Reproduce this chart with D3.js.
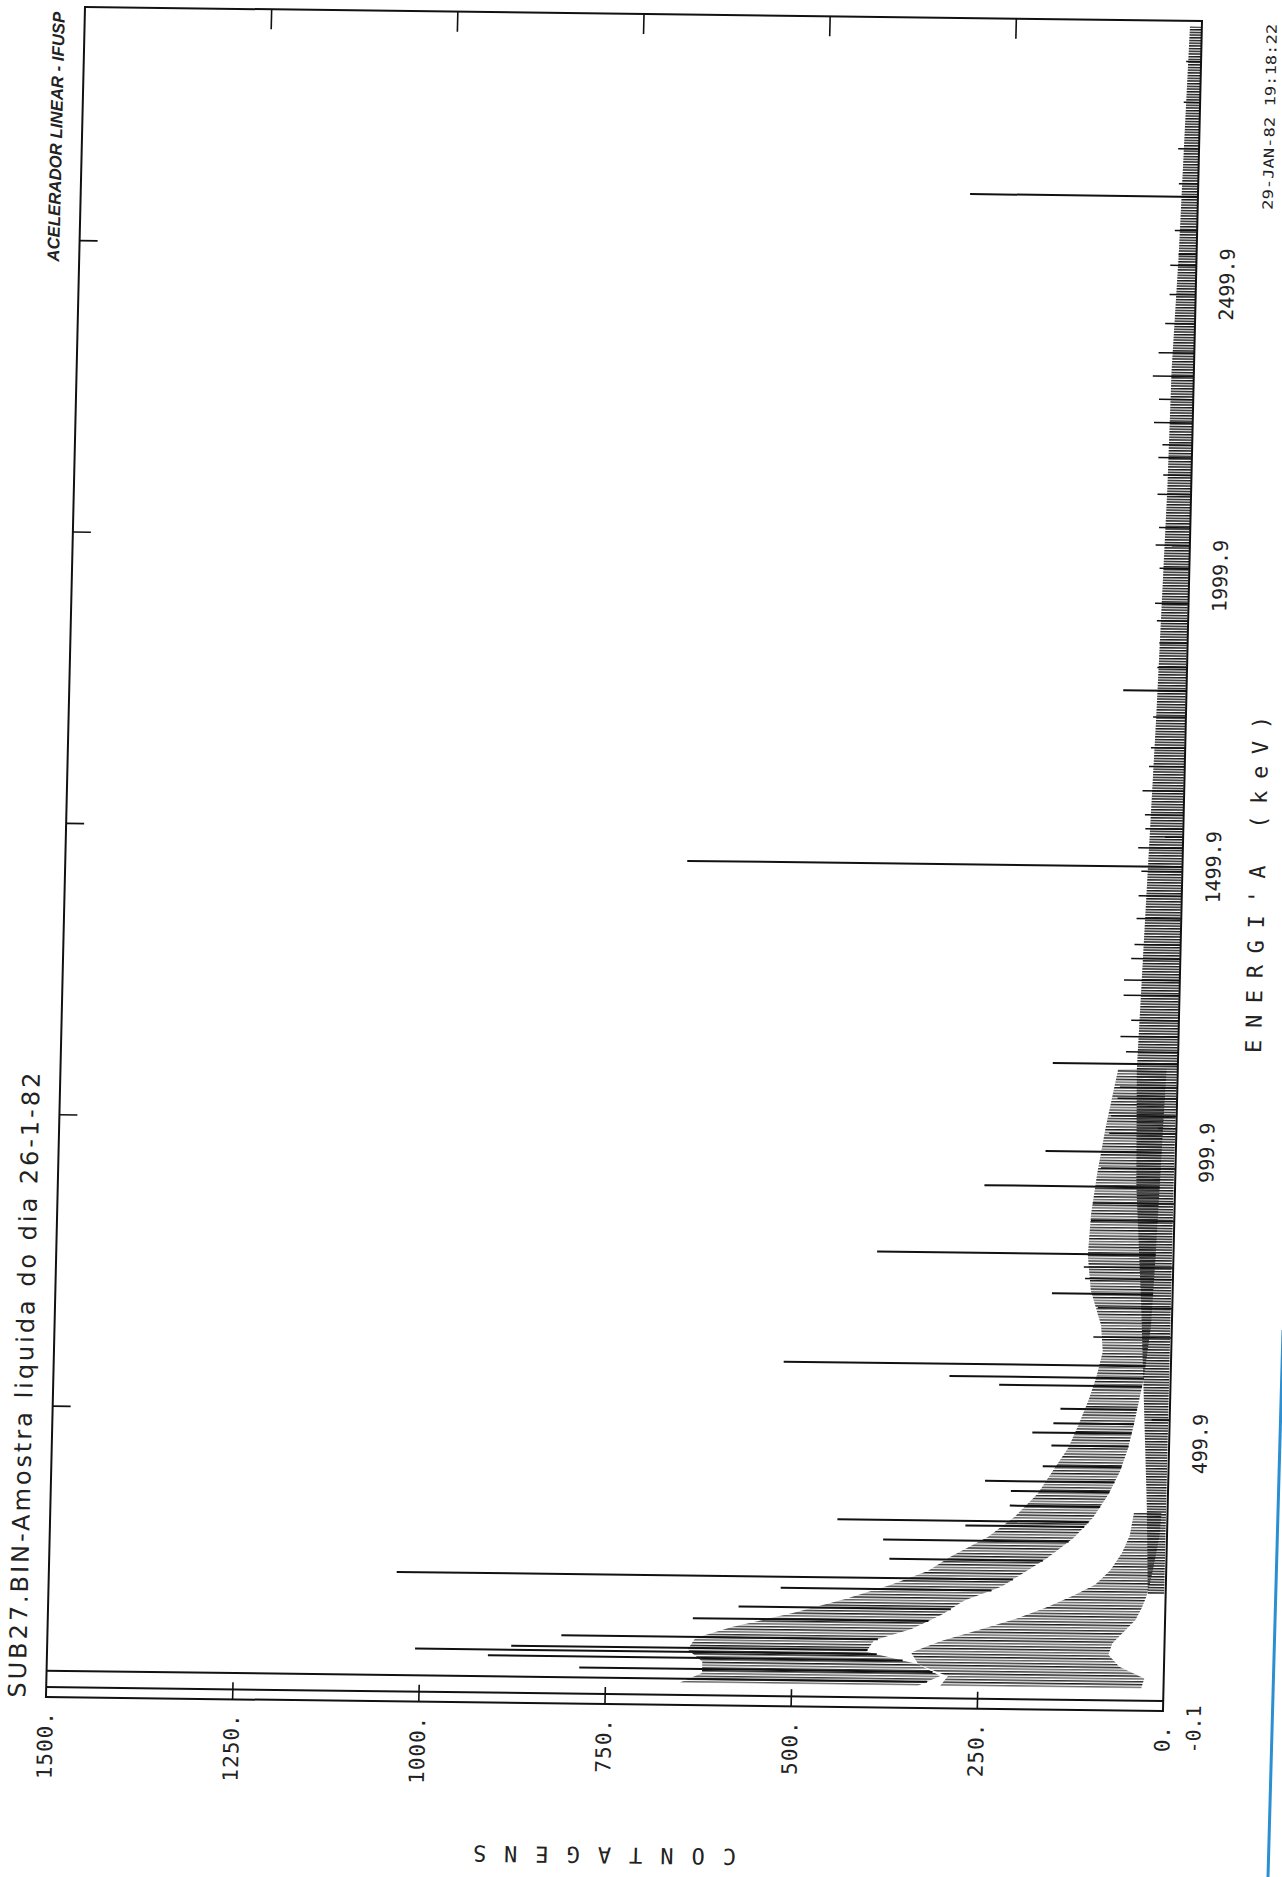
<!DOCTYPE html>
<html>
<head>
<meta charset="utf-8">
<script src="https://cdn.jsdelivr.net/npm/d3@7"></script>
<style>
  body { margin: 0; background: #fff; }
</style>
</head>
<body>
<div id="chart"></div>
<script>
// eixo de contagens (horizontal, 1500 a esquerda) e eixo de energia (vertical)
const countTicks = [1500, 1250, 1000, 750, 500, 250, 0];
const countTickText = ["1500.", "1250.", "1000.", "750.", "500.", "250.", "0."];
const energyTicks = [-0.1, 499.9, 999.9, 1499.9, 1999.9, 2499.9];
const energyTickText = ["-0.1", "499.9", "999.9", "1499.9", "1999.9", "2499.9"];

// continuo principal (faixa superior), keV -> contagens
const bandAEnergy = [38, 55, 75, 95, 115, 135, 160, 185, 210, 235, 260, 295, 330, 370, 410, 450, 490, 530, 570, 615, 660, 720, 780, 850, 920, 1000, 1100];
const bandALow    = [330, 300, 330, 400, 390, 340, 300, 270, 220, 190, 160, 125, 100, 80, 65, 55, 48, 42, 36, 32, 28, 26, 24, 22, 20, 18, 15];
const bandAHigh   = [650, 620, 620, 640, 630, 580, 500, 430, 370, 320, 290, 240, 205, 175, 155, 135, 122, 110, 100, 92, 95, 110, 115, 112, 105, 95, 80];

// segundo traco (faixa inferior em baixa energia)
const bandBEnergy = [38, 55, 75, 95, 115, 135, 155, 175, 195, 215, 240, 270, 300, 340];
const bandBLow    = [30, 26, 60, 75, 70, 55, 40, 32, 26, 22, 18, 14, 10, 8];
const bandBHigh   = [300, 290, 330, 340, 300, 250, 200, 160, 125, 95, 75, 60, 50, 45];

// faixa de ruido junto a linha de base
const stripEnergy = [200, 350, 500, 700, 900, 1100, 1300, 1500, 1700, 1900, 2100, 2300, 2500, 2700, 2890];
const stripLow    = [2, 2, 2, 2, 2, 1, 1, 1, 1, 1, 0, 0, 0, 0, 0];
const stripHigh   = [24, 28, 34, 42, 52, 55, 50, 45, 40, 36, 32, 30, 24, 20, 16];

// picos (keV, contagens)
const peakEnergy = [17, 45, 62, 81, 91, 98, 117, 149, 170, 203, 222, 255, 288, 314, 322, 349, 374, 391, 417, 453, 475, 491, 516, 556, 570, 591, 714, 782, 898, 958, 1109, 1448, 1750, 2598];
const peakCounts = [1600, 1600, 785, 908, 1006, 877, 810, 634, 573, 517, 1033, 372, 381, 271, 443, 212, 211, 246, 169, 158, 184, 156, 147, 230, 297, 520, 162, 398, 256, 175, 168, 665, 85, 306];

// picos pequenos sobre o ruido
const spikeEnergy = [640, 690, 740, 760, 840, 870, 930, 990, 1020, 1050, 1069, 1130, 1156, 1184, 1227, 1253, 1290, 1314, 1359, 1398, 1440, 1480, 1513, 1537, 1578, 1620, 1652, 1705, 1790, 1832, 1870, 1900, 1960, 2000, 2030, 2087, 2120, 2150, 2172, 2210, 2250, 2290, 2330, 2380, 2430, 2480, 2540, 2620, 2680, 2760, 2830];
const spikeCounts = [105, 100, 118, 120, 112, 110, 100, 90, 88, 80, 77, 70, 78, 64, 75, 75, 66, 62, 60, 58, 55, 60, 51, 52, 56, 48, 46, 44, 40, 38, 42, 45, 40, 46, 42, 45, 38, 45, 40, 52, 46, 55, 48, 40, 35, 35, 30, 26, 28, 22, 20];

const W = 1117, H = 1690;

const svg = d3.select("#chart").append("svg")
    .attr("width", 1282)
    .attr("height", 1877);

const defs = svg.append("defs");
// tracos horizontais da plotadora
const hatch = defs.append("pattern").attr("id", "hatch")
    .attr("patternUnits", "userSpaceOnUse").attr("width", 10).attr("height", 8.4);
[[0, 1.5], [3.1, 1.0], [5.7, 1.3]].forEach(r => {
    hatch.append("rect").attr("y", r[0]).attr("width", 10).attr("height", r[1]).attr("fill", "#1a1a1a");
});
const hatchDense = defs.append("pattern").attr("id", "hatchDense")
    .attr("patternUnits", "userSpaceOnUse").attr("width", 10).attr("height", 2.7);
hatchDense.append("rect").attr("width", 10).attr("height", 1.5).attr("fill", "#1a1a1a");
defs.append("clipPath").attr("id", "plotClip")
    .append("rect").attr("width", 1117).attr("height", 1690);

// a folha digitalizada esta levemente torta
const page = svg.append("g").attr("transform", "matrix(1,0.0125,-0.0231,1,85,7)");

const x = d3.scaleLinear().domain([0, 1500]).range([W, 0]);
const y = d3.scaleLinear().domain([-0.1, 2899.9]).range([H, 0]);

const plot = page.append("g").attr("clip-path", "url(#plotClip)");

function band(energy, low, high, fill) {
    const rows = energy.map((e, i) => ({ e: e, lo: low[i], hi: high[i] }));
    const area = d3.area()
        .y(d => y(d.e))
        .x0(d => x(d.lo))
        .x1(d => x(d.hi));
    plot.append("path").attr("d", area(rows)).attr("fill", fill);
}

band(stripEnergy, stripLow, stripHigh, "url(#hatchDense)");
band(bandBEnergy, bandBLow, bandBHigh, "url(#hatch)");
band(bandAEnergy, bandALow, bandAHigh, "url(#hatch)");

// base dos picos: continuo local
const baseA = d3.scaleLinear().domain(bandAEnergy).range(bandALow).clamp(true);
function peakBase(e) {
    if (e < 35 || e > 1100) return 0;
    return baseA(e);
}

plot.selectAll("line.spike")
    .data(spikeEnergy.map((e, i) => ({ e: e, c: spikeCounts[i] })))
    .enter().append("line")
    .attr("class", "spike")
    .attr("x1", x(0))
    .attr("x2", d => x(d.c))
    .attr("y1", d => y(d.e))
    .attr("y2", d => y(d.e))
    .attr("stroke", "#111")
    .attr("stroke-width", 1.5);

plot.selectAll("line.peak")
    .data(peakEnergy.map((e, i) => ({ e: e, c: peakCounts[i] })))
    .enter().append("line")
    .attr("class", "peak")
    .attr("x1", d => x(peakBase(d.e)))
    .attr("x2", d => x(d.c))
    .attr("y1", d => y(d.e))
    .attr("y2", d => y(d.e))
    .attr("stroke", "#111")
    .attr("stroke-width", 2);

// moldura e marcas
page.append("rect")
    .attr("width", W).attr("height", H)
    .attr("fill", "none").attr("stroke", "#111").attr("stroke-width", 2);

const inner = [1250, 1000, 750, 500, 250];
const eInner = [499.9, 999.9, 1499.9, 1999.9, 2499.9];

const axes = [
    page.append("g").attr("transform", `translate(0,${H})`)
        .call(d3.axisBottom(x).tickValues(inner).tickSize(-17).tickFormat("")),
    page.append("g")
        .call(d3.axisTop(x).tickValues(inner).tickSize(-20).tickFormat("")),
    page.append("g")
        .call(d3.axisLeft(y).tickValues(eInner).tickSize(-18).tickFormat("")),
    page.append("g").attr("transform", `translate(${W},0)`)
        .call(d3.axisRight(y).tickValues(eInner).tickSize(-18).tickFormat(""))
];
axes.forEach(g => {
    g.select(".domain").remove();
    g.selectAll("line").attr("stroke", "#111").attr("stroke-width", 1.6);
});

// rotulos de contagem
page.selectAll("text.ctick")
    .data(countTicks)
    .enter().append("text")
    .attr("class", "ctick")
    .attr("transform", d => `translate(${x(d)},${H + 14}) rotate(-90)`)
    .attr("text-anchor", "end")
    .attr("dy", "0.35em")
    .attr("font-family", "DejaVu Sans Mono")
    .attr("font-size", 21)
    .attr("letter-spacing", 1)
    .attr("fill", "#222")
    .text((d, i) => countTickText[i]);

// rotulos de energia
page.selectAll("text.etick")
    .data(energyTicks)
    .enter().append("text")
    .attr("class", "etick")
    .attr("transform", d => `translate(${W + 31},${y(d) - 6}) rotate(-90)`)
    .attr("text-anchor", "end")
    .attr("dy", "0.35em")
    .attr("font-family", "DejaVu Sans Mono")
    .attr("font-size", 20)
    .attr("fill", "#222")
    .text((d, i) => energyTickText[i]);

// textos
page.append("text")
    .attr("transform", "translate(-29,1691) rotate(-90)")
    .attr("dy", "0.35em")
    .attr("font-family", "DejaVu Sans")
    .attr("font-size", 24)
    .attr("textLength", 625)
    .attr("lengthAdjust", "spacing")
    .attr("fill", "#222")
    .text("SUB27.BIN-Amostra liquida do dia 26-1-82");

page.append("text")
    .attr("transform", "translate(-26,255) rotate(-90)")
    .attr("dy", "0.35em")
    .attr("font-family", "Liberation Sans")
    .attr("font-style", "italic")
    .attr("font-weight", "bold")
    .attr("font-size", 17)
    .attr("textLength", 250)
    .attr("lengthAdjust", "spacingAndGlyphs")
    .attr("fill", "#222")
    .text("ACELERADOR LINEAR - IFUSP");

page.append("text")
    .attr("transform", `translate(${W + 75},1031) rotate(-90)`)
    .attr("dy", "0.35em")
    .attr("font-family", "DejaVu Sans Mono")
    .attr("font-size", 22)
    .attr("textLength", 337)
    .attr("lengthAdjust", "spacing")
    .attr("fill", "#222")
    .text("ENERGI'A (keV)");

page.append("text")
    .attr("transform", `translate(${W + 70},188) rotate(-90)`)
    .attr("dy", "0.35em")
    .attr("font-family", "DejaVu Sans Mono")
    .attr("font-size", 14)
    .attr("textLength", 186)
    .attr("lengthAdjust", "spacingAndGlyphs")
    .attr("fill", "#222")
    .text("29-JAN-82 19:18:22");

page.append("text")
    .attr("transform", "translate(562,1841) rotate(180)")
    .attr("text-anchor", "middle")
    .attr("dy", "0.35em")
    .attr("font-family", "DejaVu Sans Mono")
    .attr("font-size", 22)
    .attr("textLength", 263)
    .attr("lengthAdjust", "spacing")
    .attr("fill", "#222")
    .text("CONTAGENS");

// borda azul da digitalizacao
svg.append("path")
    .attr("d", "M1283,1330 L1268,1877")
    .attr("stroke", "#2b8fd1")
    .attr("stroke-width", 3)
    .attr("fill", "none");
</script>
</body>
</html>
